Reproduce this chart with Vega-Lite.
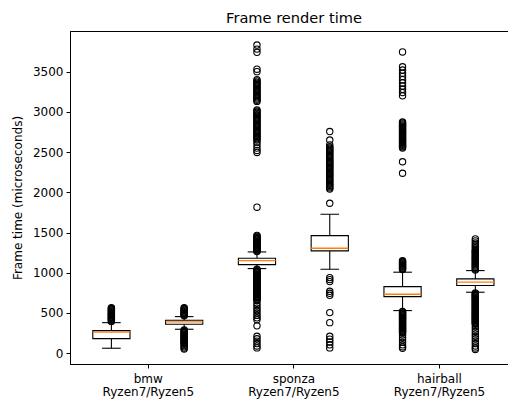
{
  "$schema": "https://vega.github.io/schema/vega-lite/v6.json",
  "autosize": {"type": "none"},
  "padding": {"left": 70, "top": 31, "right": 0, "bottom": 39},
  "width": 438,
  "height": 333,
  "background": "white",
  "title": {"text": "Frame render time", "fontSize": 14.6, "fontWeight": "normal", "color": "black", "font": "DejaVu Sans", "offset": 5, "dx": 5},
  "config": {
    "font": "DejaVu Sans",
    "view": {"stroke": "black", "strokeWidth": 1},
    "axis": {"labelColor": "black", "tickColor": "black", "domainColor": "black", "titleColor": "black", "labelFont": "DejaVu Sans", "titleFont": "DejaVu Sans", "labelFontSize": 12, "titleFontSize": 12, "titleFontWeight": "normal", "grid": false, "tickSize": 4, "tickWidth": 1, "domainWidth": 1}
  },
  "datasets": {
    "boxes": [
      {"p": 1, "lo": 62, "q1": 181, "med": 261, "q3": 281, "hi": 380},
      {"p": 2, "lo": 298, "q1": 360, "med": 389, "q3": 410, "hi": 455},
      {"p": 3, "lo": 1052, "q1": 1101, "med": 1151, "q3": 1181, "hi": 1259},
      {"p": 4, "lo": 1044, "q1": 1272, "med": 1305, "q3": 1462, "hi": 1728},
      {"p": 5, "lo": 530, "q1": 704, "med": 733, "q3": 828, "hi": 1007},
      {"p": 6, "lo": 758, "q1": 841, "med": 883, "q3": 924, "hi": 1027}
    ],
    "outliers": [
      {"p":1,"v":395},{"p":1,"v":405},{"p":1,"v":415},{"p":1,"v":425},{"p":1,"v":435},{"p":1,"v":445},{"p":1,"v":455},{"p":1,"v":465},{"p":1,"v":475},{"p":1,"v":485},{"p":1,"v":495},{"p":1,"v":505},{"p":1,"v":515},{"p":1,"v":525},{"p":1,"v":535},{"p":1,"v":545},{"p":1,"v":555},{"p":1,"v":565},
      {"p":2,"v":465},{"p":2,"v":475},{"p":2,"v":485},{"p":2,"v":495},{"p":2,"v":505},{"p":2,"v":515},{"p":2,"v":525},{"p":2,"v":535},{"p":2,"v":545},{"p":2,"v":555},{"p":2,"v":565},
      {"p":2,"v":290},{"p":2,"v":280},{"p":2,"v":270},{"p":2,"v":260},{"p":2,"v":250},{"p":2,"v":240},{"p":2,"v":230},{"p":2,"v":220},{"p":2,"v":210},{"p":2,"v":200},{"p":2,"v":190},{"p":2,"v":180},{"p":2,"v":170},{"p":2,"v":160},{"p":2,"v":150},{"p":2,"v":140},{"p":2,"v":130},{"p":2,"v":120},{"p":2,"v":110},{"p":2,"v":95},{"p":2,"v":80},{"p":2,"v":65},{"p":2,"v":52},
      {"p":3,"v":1265},{"p":3,"v":1275},{"p":3,"v":1285},{"p":3,"v":1295},{"p":3,"v":1305},{"p":3,"v":1315},{"p":3,"v":1325},{"p":3,"v":1335},{"p":3,"v":1345},{"p":3,"v":1355},{"p":3,"v":1365},{"p":3,"v":1375},{"p":3,"v":1385},{"p":3,"v":1395},{"p":3,"v":1405},{"p":3,"v":1415},{"p":3,"v":1425},{"p":3,"v":1435},{"p":3,"v":1445},{"p":3,"v":1455},{"p":3,"v":1465},
      {"p":3,"v":1815},
      {"p":3,"v":2495},{"p":3,"v":2520},{"p":3,"v":2550},{"p":3,"v":2590},{"p":3,"v":2625},
      {"p":3,"v":2650},{"p":3,"v":2665},{"p":3,"v":2680},{"p":3,"v":2695},{"p":3,"v":2710},{"p":3,"v":2725},{"p":3,"v":2740},{"p":3,"v":2755},{"p":3,"v":2770},{"p":3,"v":2785},{"p":3,"v":2800},{"p":3,"v":2815},{"p":3,"v":2830},{"p":3,"v":2845},{"p":3,"v":2860},{"p":3,"v":2875},{"p":3,"v":2890},{"p":3,"v":2905},{"p":3,"v":2920},{"p":3,"v":2935},{"p":3,"v":2950},{"p":3,"v":2965},{"p":3,"v":2980},{"p":3,"v":2995},{"p":3,"v":3010},{"p":3,"v":3025},
      {"p":3,"v":3130},{"p":3,"v":3145},{"p":3,"v":3160},{"p":3,"v":3175},{"p":3,"v":3190},{"p":3,"v":3205},{"p":3,"v":3220},{"p":3,"v":3235},{"p":3,"v":3250},{"p":3,"v":3265},{"p":3,"v":3280},{"p":3,"v":3295},{"p":3,"v":3310},{"p":3,"v":3325},{"p":3,"v":3340},{"p":3,"v":3355},{"p":3,"v":3370},{"p":3,"v":3385},{"p":3,"v":3400},
      {"p":3,"v":3500},{"p":3,"v":3530},{"p":3,"v":3740},{"p":3,"v":3780},{"p":3,"v":3830},
      {"p":3,"v":1045},{"p":3,"v":1035},{"p":3,"v":1025},{"p":3,"v":1015},{"p":3,"v":1005},{"p":3,"v":995},{"p":3,"v":985},{"p":3,"v":975},{"p":3,"v":965},{"p":3,"v":955},{"p":3,"v":945},{"p":3,"v":935},{"p":3,"v":925},{"p":3,"v":915},{"p":3,"v":905},{"p":3,"v":895},{"p":3,"v":885},{"p":3,"v":875},{"p":3,"v":865},{"p":3,"v":855},{"p":3,"v":845},{"p":3,"v":835},{"p":3,"v":825},{"p":3,"v":815},{"p":3,"v":805},{"p":3,"v":795},{"p":3,"v":785},{"p":3,"v":775},{"p":3,"v":765},{"p":3,"v":755},{"p":3,"v":745},{"p":3,"v":735},{"p":3,"v":725},{"p":3,"v":715},{"p":3,"v":705},{"p":3,"v":695},{"p":3,"v":685},{"p":3,"v":675},{"p":3,"v":665},{"p":3,"v":655},
      {"p":3,"v":620},{"p":3,"v":590},{"p":3,"v":560},{"p":3,"v":530},{"p":3,"v":500},{"p":3,"v":470},{"p":3,"v":440},{"p":3,"v":415},{"p":3,"v":340},
      {"p":3,"v":210},{"p":3,"v":180},{"p":3,"v":150},{"p":3,"v":120},{"p":3,"v":90},{"p":3,"v":66},
      {"p":4,"v":1864},
      {"p":4,"v":2040},{"p":4,"v":2055},{"p":4,"v":2070},{"p":4,"v":2085},{"p":4,"v":2100},{"p":4,"v":2115},{"p":4,"v":2130},{"p":4,"v":2145},{"p":4,"v":2160},{"p":4,"v":2175},{"p":4,"v":2190},{"p":4,"v":2205},{"p":4,"v":2220},{"p":4,"v":2235},{"p":4,"v":2250},{"p":4,"v":2265},{"p":4,"v":2280},{"p":4,"v":2295},{"p":4,"v":2310},{"p":4,"v":2325},{"p":4,"v":2340},{"p":4,"v":2355},{"p":4,"v":2370},{"p":4,"v":2385},{"p":4,"v":2400},{"p":4,"v":2415},{"p":4,"v":2430},{"p":4,"v":2445},{"p":4,"v":2460},{"p":4,"v":2475},{"p":4,"v":2490},{"p":4,"v":2505},{"p":4,"v":2520},{"p":4,"v":2535},{"p":4,"v":2550},{"p":4,"v":2565},
      {"p":4,"v":2590},{"p":4,"v":2650},{"p":4,"v":2755},
      {"p":4,"v":940},{"p":4,"v":915},{"p":4,"v":890},{"p":4,"v":770},{"p":4,"v":745},{"p":4,"v":720},{"p":4,"v":505},{"p":4,"v":380},
      {"p":4,"v":210},{"p":4,"v":175},{"p":4,"v":140},{"p":4,"v":105},{"p":4,"v":66},
      {"p":5,"v":1040},{"p":5,"v":1050},{"p":5,"v":1060},{"p":5,"v":1070},{"p":5,"v":1080},{"p":5,"v":1090},{"p":5,"v":1100},{"p":5,"v":1110},{"p":5,"v":1120},{"p":5,"v":1130},{"p":5,"v":1140},{"p":5,"v":1150},
      {"p":5,"v":3745},{"p":5,"v":3560},{"p":5,"v":3520},{"p":5,"v":3480},{"p":5,"v":3440},{"p":5,"v":3400},{"p":5,"v":3360},{"p":5,"v":3320},{"p":5,"v":3280},{"p":5,"v":3240},{"p":5,"v":3200},
      {"p":5,"v":2550},{"p":5,"v":2562},{"p":5,"v":2574},{"p":5,"v":2586},{"p":5,"v":2598},{"p":5,"v":2610},{"p":5,"v":2622},{"p":5,"v":2634},{"p":5,"v":2646},{"p":5,"v":2658},{"p":5,"v":2670},{"p":5,"v":2682},{"p":5,"v":2694},{"p":5,"v":2706},{"p":5,"v":2718},{"p":5,"v":2730},{"p":5,"v":2742},{"p":5,"v":2754},{"p":5,"v":2766},{"p":5,"v":2778},{"p":5,"v":2790},{"p":5,"v":2802},{"p":5,"v":2814},{"p":5,"v":2826},{"p":5,"v":2838},{"p":5,"v":2850},{"p":5,"v":2862},{"p":5,"v":2874},
      {"p":5,"v":2380},{"p":5,"v":2237},
      {"p":5,"v":520},{"p":5,"v":510},{"p":5,"v":500},{"p":5,"v":490},{"p":5,"v":480},{"p":5,"v":470},{"p":5,"v":460},{"p":5,"v":450},{"p":5,"v":440},{"p":5,"v":430},{"p":5,"v":420},{"p":5,"v":410},{"p":5,"v":400},{"p":5,"v":390},{"p":5,"v":380},{"p":5,"v":370},{"p":5,"v":360},{"p":5,"v":350},{"p":5,"v":340},{"p":5,"v":330},{"p":5,"v":320},{"p":5,"v":310},{"p":5,"v":300},{"p":5,"v":290},{"p":5,"v":280},{"p":5,"v":270},{"p":5,"v":260},{"p":5,"v":250},
      {"p":5,"v":225},{"p":5,"v":195},{"p":5,"v":165},{"p":5,"v":135},{"p":5,"v":105},{"p":5,"v":80},{"p":5,"v":62},
      {"p":6,"v":1035},{"p":6,"v":1047},{"p":6,"v":1059},{"p":6,"v":1071},{"p":6,"v":1083},{"p":6,"v":1095},{"p":6,"v":1107},{"p":6,"v":1119},{"p":6,"v":1131},{"p":6,"v":1143},{"p":6,"v":1155},{"p":6,"v":1167},{"p":6,"v":1179},{"p":6,"v":1191},{"p":6,"v":1203},{"p":6,"v":1215},{"p":6,"v":1227},{"p":6,"v":1239},{"p":6,"v":1251},{"p":6,"v":1263},{"p":6,"v":1275},{"p":6,"v":1290},{"p":6,"v":1310},{"p":6,"v":1330},{"p":6,"v":1350},{"p":6,"v":1370},{"p":6,"v":1395},{"p":6,"v":1420},
      {"p":6,"v":750},{"p":6,"v":740},{"p":6,"v":730},{"p":6,"v":720},{"p":6,"v":710},{"p":6,"v":700},{"p":6,"v":690},{"p":6,"v":680},{"p":6,"v":670},{"p":6,"v":660},{"p":6,"v":650},{"p":6,"v":640},{"p":6,"v":630},{"p":6,"v":620},{"p":6,"v":610},{"p":6,"v":600},{"p":6,"v":590},{"p":6,"v":580},{"p":6,"v":570},{"p":6,"v":560},{"p":6,"v":550},{"p":6,"v":540},{"p":6,"v":530},{"p":6,"v":520},{"p":6,"v":510},{"p":6,"v":500},{"p":6,"v":490},{"p":6,"v":480},{"p":6,"v":470},{"p":6,"v":460},{"p":6,"v":450},{"p":6,"v":440},{"p":6,"v":430},{"p":6,"v":420},{"p":6,"v":410},{"p":6,"v":400},{"p":6,"v":390},{"p":6,"v":380},{"p":6,"v":370},{"p":6,"v":360},
      {"p":6,"v":330},{"p":6,"v":300},{"p":6,"v":270},{"p":6,"v":240},{"p":6,"v":210},{"p":6,"v":180},{"p":6,"v":150},{"p":6,"v":120},{"p":6,"v":90},{"p":6,"v":65},{"p":6,"v":47}
    ]
  },
  "layer": [
    {
      "data": {"name": "boxes"},
      "mark": {"type": "rule", "color": "black", "strokeWidth": 1.1},
      "encoding": {
        "x": {"field": "p", "type": "quantitative", "scale": {"domain": [0.5, 6.38], "nice": false, "zero": false},
              "axis": {"values": [1.5, 3.5, 5.5], "title": null, "labelPadding": 5, "labelLineHeight": 13.5, "labelBaseline": "top",
                       "labelExpr": "datum.value == 1.5 ? ['bmw', 'Ryzen7/Ryzen5'] : datum.value == 3.5 ? ['sponza', 'Ryzen7/Ryzen5'] : ['hairball', 'Ryzen7/Ryzen5']"}},
        "y": {"field": "lo", "type": "quantitative", "scale": {"domain": [-134, 4005], "nice": false, "zero": false},
              "axis": {"values": [0, 500, 1000, 1500, 2000, 2500, 3000, 3500], "format": "d", "title": "Frame time (microseconds)", "labelPadding": 3, "titlePadding": 8}},
        "y2": {"field": "q1"}
      }
    },
    {
      "data": {"name": "boxes"},
      "mark": {"type": "rule", "color": "black", "strokeWidth": 1.1},
      "encoding": {
        "x": {"field": "p", "type": "quantitative"},
        "y": {"field": "q3", "type": "quantitative"},
        "y2": {"field": "hi"}
      }
    },
    {
      "data": {"name": "boxes"},
      "mark": {"type": "tick", "orient": "horizontal", "color": "black", "size": 18.6, "thickness": 1.1, "opacity": 1},
      "encoding": {
        "x": {"field": "p", "type": "quantitative"},
        "y": {"field": "lo", "type": "quantitative"}
      }
    },
    {
      "data": {"name": "boxes"},
      "mark": {"type": "tick", "orient": "horizontal", "color": "black", "size": 18.6, "thickness": 1.1, "opacity": 1},
      "encoding": {
        "x": {"field": "p", "type": "quantitative"},
        "y": {"field": "hi", "type": "quantitative"}
      }
    },
    {
      "data": {"name": "boxes"},
      "mark": {"type": "bar", "width": 37.2, "fill": "white", "stroke": "black", "strokeWidth": 1.1},
      "encoding": {
        "x": {"field": "p", "type": "quantitative"},
        "y": {"field": "q1", "type": "quantitative"},
        "y2": {"field": "q3"}
      }
    },
    {
      "data": {"name": "boxes"},
      "mark": {"type": "tick", "orient": "horizontal", "color": "#ff7f0e", "size": 37.2, "thickness": 1.3, "opacity": 1},
      "encoding": {
        "x": {"field": "p", "type": "quantitative"},
        "y": {"field": "med", "type": "quantitative"}
      }
    },
    {
      "data": {"name": "outliers"},
      "mark": {"type": "point", "shape": "circle", "filled": false, "stroke": "black", "strokeWidth": 1.1, "size": 40, "opacity": 1},
      "encoding": {
        "x": {"field": "p", "type": "quantitative"},
        "y": {"field": "v", "type": "quantitative"}
      }
    }
  ]
}
